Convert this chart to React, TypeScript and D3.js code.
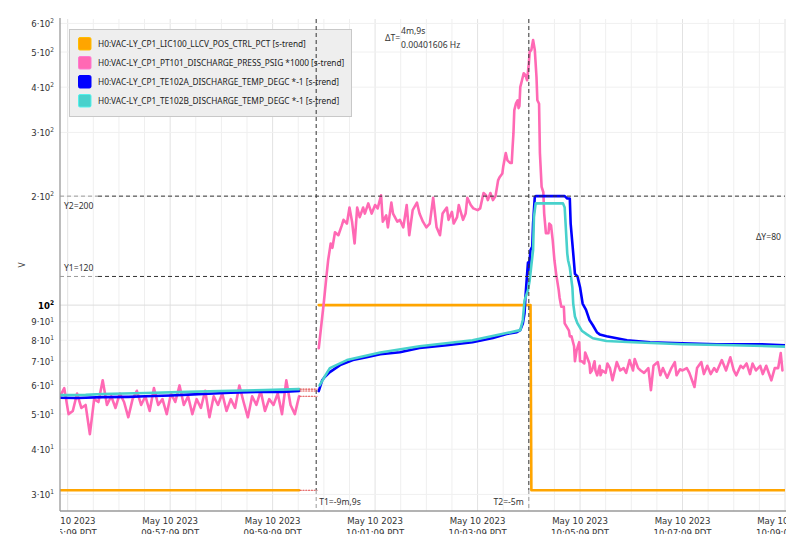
import React from 'react';
import * as d3 from 'd3';

// ---- time axis: seconds since May 10 2023 09:55:00 PDT ----
const xDomain = [0, 849];
const yDomain = [27, 617];

const xTickTimes = [9, 129, 249, 369, 489, 609, 729, 849];
const xTickDates = ['May 10 2023', 'May 10 2023', 'May 10 2023', 'May 10 2023', 'May 10 2023', 'May 10 2023', 'May 10 2023', 'May 10 2023'];
const xTickClocks = ['09:55:09 PDT', '09:57:09 PDT', '09:59:09 PDT', '10:01:09 PDT', '10:03:09 PDT', '10:05:09 PDT', '10:07:09 PDT', '10:09:09 PDT'];
const xMinorStep = 30;

const yTicks = [30, 40, 50, 60, 70, 80, 90, 100, 200, 300, 400, 500, 600];
const yTickMantissa = ['3·', '4·', '5·', '6·', '7·', '8·', '9·', '', '2·', '3·', '4·', '5·', '6·'];
const yTickExp = ['1', '1', '1', '1', '1', '1', '1', '2', '2', '2', '2', '2', '2'];

const seriesNames = [
  'H0:VAC-LY_CP1_LIC100_LLCV_POS_CTRL_PCT [s-trend]',
  'H0:VAC-LY_CP1_PT101_DISCHARGE_PRESS_PSIG *1000 [s-trend]',
  'H0:VAC-LY_CP1_TE102A_DISCHARGE_TEMP_DEGC *-1 [s-trend]',
  'H0:VAC-LY_CP1_TE102B_DISCHARGE_TEMP_DEGC *-1 [s-trend]',
];
const seriesColors = ['#FFA500', '#FF69B4', '#0000FF', '#48D1CC'];

// gap in data between these times
const gapStart = 280;
const gapEnd = 301;

const orangePre: [number, number][] = [[0, 30.8], [280, 30.8]];
const orangePost: [number, number][] = [[303, 100], [551, 100], [552, 30.8], [849, 30.8]];

const pinkPreStep = 5;
const pinkPreValues = [56, 59, 50, 51, 57, 52, 53, 44, 55, 54, 62, 53, 56, 52, 57, 54, 49, 55, 58, 53, 56, 51, 59, 53, 55, 50, 57, 54, 60, 53, 56, 50, 55, 52, 58, 49, 56, 53, 57, 51, 55, 52, 60, 54, 49, 56, 53, 58, 51, 55, 53, 57, 50, 62, 53, 50, 56];

const pinkPost: [number, number][] = [
  [303, 76], [306, 88], [309, 102], [312, 120], [314, 133], [317, 148], [319, 144], [322, 159], [326, 156], [330, 166],
  [332, 172], [336, 168], [339, 186], [342, 170], [345, 148], [348, 186], [351, 175], [355, 186], [357, 179], [361, 191],
  [365, 179], [369, 189], [372, 185], [376, 201], [378, 170], [382, 177], [384, 164], [388, 192], [390, 179], [395, 170],
  [398, 172], [402, 164], [406, 189], [409, 156], [413, 183], [418, 192], [421, 179], [425, 170], [429, 164], [433, 168],
  [437, 198], [441, 164], [445, 156], [448, 179], [453, 186], [455, 172], [459, 181], [461, 168], [465, 175], [467, 189],
  [472, 172], [475, 179], [477, 198], [481, 189], [484, 185], [489, 183], [492, 185], [496, 204], [499, 201], [501, 195],
  [504, 204], [507, 195], [510, 200], [513, 221], [515, 226], [518, 231], [519, 241], [522, 263], [524, 251], [527, 247],
  [529, 247], [530, 273], [531, 298], [532, 345], [534, 361], [536, 368], [537, 350], [538, 355], [539, 400], [541, 418],
  [543, 437], [545, 432], [547, 418], [549, 464], [550, 500], [552, 507], [554, 540], [556, 507], [558, 426], [559, 368],
  [561, 360], [562, 263], [564, 212], [566, 205], [567, 179], [569, 158], [572, 158], [573, 168], [575, 166], [577, 151],
  [579, 133], [581, 122], [584, 110], [585, 105], [587, 99], [590, 99], [591, 89], [596, 85], [597, 82], [599, 82],
  [602, 77], [603, 70], [605, 75], [608, 79], [609, 70], [611, 70], [614, 69], [615, 74], [617, 72], [620, 69],
  [621, 65], [623, 66], [626, 70], [627, 66], [629, 64], [632, 68], [633, 64], [635, 66], [639, 65], [641, 69],
  [644, 67], [647, 62], [652, 69.6], [656, 66], [660, 67], [663, 65], [667, 70.5], [671, 66], [673, 71], [677, 67],
  [680, 66], [684, 65], [689, 67], [692, 58.2], [695, 68], [700, 69.6], [703, 64], [706, 67], [711, 63], [716, 67],
  [720, 69.6], [722, 64], [726, 66.5], [729, 66], [734, 67], [737, 65], [743, 59.4], [746, 67], [751, 69.6], [754, 64.5],
  [758, 68], [762, 64.5], [766, 67], [769, 65.5], [775, 70.5], [780, 66], [785, 71.8], [789, 66], [792, 64], [797, 68],
  [800, 67], [804, 69], [808, 64.5], [811, 69], [815, 66], [820, 68], [823, 64.5], [827, 68], [833, 62], [837, 67],
  [841, 67], [844, 73.7], [846, 66],
];

const bluePre: [number, number][] = [
  [0, 55.5], [20, 55.4], [50, 55.7], [80, 55.8], [100, 56], [130, 56.3], [150, 56.6], [180, 57], [200, 57.3], [240, 57.7], [260, 57.6], [280, 57.9],
];
const bluePost: [number, number][] = [
  [303, 57.9], [307, 62], [310, 63.3], [316, 65.3], [328, 68.3], [343, 70.5], [359, 71.8], [375, 73.2], [398, 74.1], [421, 76.1],
  [453, 77.5], [483, 79], [507, 81.1], [523, 83.2], [535, 84.2], [539, 85.3], [542, 89], [544, 95], [545, 105], [547, 122],
  [548, 131], [549, 125], [551, 142], [553, 145], [554, 168], [556, 199], [557, 200], [591, 200], [594, 197], [597, 197],
  [598, 168], [601, 139], [603, 122], [606, 120], [609, 112], [612, 101], [616, 97], [620, 91], [624, 88], [629, 84],
  [632, 83], [640, 82], [664, 80], [691, 79], [729, 78.5], [769, 78], [820, 78], [849, 77.5],
];

const cyanPre: [number, number][] = [
  [0, 56.4], [30, 56.5], [50, 56.8], [100, 57.2], [150, 57.6], [200, 58], [240, 58.3], [280, 58.6],
];
const cyanPost: [number, number][] = [
  [304, 60], [310, 63.5], [316, 67], [336, 70.5], [375, 74], [421, 77], [483, 80], [523, 83.7], [539, 85.3], [542, 91],
  [544, 103], [548, 110], [550, 117], [554, 142], [555, 175], [557, 191], [589, 191], [591, 186], [594, 139], [595, 133],
  [597, 127], [600, 112], [601, 101], [603, 93], [606, 89], [611, 85], [617, 83], [624, 81], [640, 79.6], [671, 79],
  [729, 78], [788, 77.5], [849, 76.8],
];

const cursorT1 = 300;
const cursorT2 = 549;
const cursorY1 = 120;
const cursorY2 = 200;

const W = 804;
const H = 551;
const M = { left: 60, right: 785, top: 19, bottom: 511 };

export default function App() {
  const x = d3.scaleLinear().domain(xDomain).range([M.left, M.right]);
  const y = d3.scaleLog().domain(yDomain).range([M.bottom, M.top]);
  const line = d3.line<[number, number]>().x(d => x(d[0])).y(d => y(d[1]));

  const pinkPre: [number, number][] = pinkPreValues.map((v, i) => [i * pinkPreStep, v]);

  const series: { pre: [number, number][]; post: [number, number][]; color: string }[] = [
    { pre: orangePre, post: orangePost, color: seriesColors[0] },
    { pre: pinkPre, post: pinkPost, color: seriesColors[1] },
    { pre: bluePre, post: bluePost, color: seriesColors[2] },
    { pre: cyanPre, post: cyanPost, color: seriesColors[3] },
  ];

  const minor = d3.range(xTickTimes[0], xDomain[1] + 1, xMinorStep);
  const tickFont = "'DejaVu Sans Condensed', 'Liberation Sans Narrow', 'Open Sans', sans-serif";
  const textFont = "'Noto Sans', 'Open Sans', sans-serif";

  return (
    <svg width={W} height={H} style={{ position: 'absolute', left: 0, top: 0, background: '#fff' }}>
      <defs>
        <clipPath id="plot">
          <rect x={M.left} y={M.top} width={M.right - M.left} height={M.bottom - M.top} />
        </clipPath>
        <clipPath id="xlab">
          <rect x={M.left} y={M.bottom} width={M.right - M.left + 1} height={23} />
        </clipPath>
      </defs>
      <rect width={W} height={H} fill="#fff" />

      {/* grid */}
      <g>
        {minor.map(t => (
          <line key={'vm' + t} x1={x(t)} x2={x(t)} y1={M.top} y2={M.bottom}
            stroke={xTickTimes.includes(t) ? '#e2e2e2' : '#efefef'} strokeWidth={1} />
        ))}
        {yTicks.map(v => (
          <line key={'hg' + v} x1={M.left} x2={M.right} y1={y(v)} y2={y(v)}
            stroke={v === 100 ? '#dddddd' : '#f0f0f0'} strokeWidth={1} />
        ))}
      </g>

      {/* series */}
      <g clipPath="url(#plot)" fill="none" strokeLinejoin="round" strokeLinecap="round">
        {series.map((s, i) => (
          <g key={'s' + i}>
            <path d={line(s.pre) || ''} stroke={s.color} strokeWidth={2.6} />
            <path d={line(s.post) || ''} stroke={s.color} strokeWidth={2.6} />
          </g>
        ))}
        {series.map((s, i) => {
          const last = s.pre[s.pre.length - 1];
          return (
            <line key={'gap' + i} x1={x(last[0]) + 1} x2={x(gapEnd)} y1={y(last[1])} y2={y(last[1])}
              stroke="#e04848" strokeWidth={1.1} strokeDasharray="1.2,1.6" />
          );
        })}
      </g>

      {/* axes */}
      <line x1={M.left} x2={M.left} y1={M.top - 1} y2={M.bottom} stroke="#9a9a9a" strokeWidth={1.3} />
      <line x1={M.left} x2={M.right + 1} y1={M.bottom} y2={M.bottom} stroke="#9a9a9a" strokeWidth={1.3} />

      {/* y tick labels */}
      <g fontFamily={tickFont} fontSize={9.5} fill="#333" textAnchor="end">
        {yTicks.map((v, i) => (
          <text key={'yl' + i} x={54} y={y(v) + 3.5} fill={v === 100 ? '#000' : '#333'} fontWeight={v === 100 ? 'bold' : 'normal'}>
            {yTickMantissa[i]}10<tspan fontSize={6.5} dy={-3.5}>{yTickExp[i]}</tspan>
          </text>
        ))}
      </g>
      <text transform={`translate(25,${(M.top + M.bottom) / 2}) rotate(-90)`} fontFamily={textFont} fontSize={8.5} fill="#333" textAnchor="middle">V</text>

      {/* x tick labels */}
      <g clipPath="url(#xlab)" fontFamily={tickFont} fontSize={9.5} fill="#333" textAnchor="middle">
        {xTickTimes.map((t, i) => (
          <g key={'xl' + i}>
            <text x={x(t)} y={524}>{xTickDates[i]}</text>
            <text x={x(t)} y={535.5}>{xTickClocks[i]}</text>
          </g>
        ))}
      </g>

      {/* legend */}
      <g>
        <rect x={69.5} y={29.5} width={282} height={87} fill="#eeeeee" stroke="#c8c8c8" strokeWidth={1} />
        {seriesNames.map((n, i) => (
          <g key={'lg' + i}>
            <rect x={78.5} y={37.5 + i * 19} width={12.5} height={12.5} rx={1.5} fill={seriesColors[i]}
              stroke={d3.color(seriesColors[i])?.brighter(0.4).toString()} strokeWidth={1} />
            <text x={98} y={47.3 + i * 19} fontFamily={textFont} fontSize={8.3} fill="#222">{n}</text>
          </g>
        ))}
      </g>

      {/* cursors */}
      <g fill="none" strokeDasharray="4,3">
        <line x1={M.left} x2={98} y1={y(cursorY2)} y2={y(cursorY2)} stroke="#9a9a9a" strokeWidth={1} />
        <line x1={98} x2={M.right} y1={y(cursorY2)} y2={y(cursorY2)} stroke="#333" strokeWidth={1} />
        <line x1={M.left} x2={98} y1={y(cursorY1)} y2={y(cursorY1)} stroke="#9a9a9a" strokeWidth={1} />
        <line x1={98} x2={M.right} y1={y(cursorY1)} y2={y(cursorY1)} stroke="#333" strokeWidth={1} />
        <line x1={x(cursorT1)} x2={x(cursorT1)} y1={M.top} y2={490} stroke="#333" strokeWidth={1} />
        <line x1={x(cursorT1)} x2={x(cursorT1)} y1={490} y2={M.bottom} stroke="#9a9a9a" strokeWidth={1} />
        <line x1={x(cursorT2)} x2={x(cursorT2)} y1={M.top} y2={490} stroke="#333" strokeWidth={1} />
        <line x1={x(cursorT2)} x2={x(cursorT2)} y1={490} y2={M.bottom} stroke="#9a9a9a" strokeWidth={1} />
      </g>

      {/* cursor labels */}
      <g fontFamily={textFont} fontSize={8.6} fill="#333">
        <text x={64} y={y(cursorY2) + 13}>Y2={cursorY2}</text>
        <text x={64} y={y(cursorY1) - 5}>Y1={cursorY1}</text>
        <text x={x(cursorT1) + 3} y={505}>T1=-9m,9s</text>
        <text x={x(cursorT2) - 5} y={505} textAnchor="end">T2=-5m</text>
        <text x={385} y={41}>ΔT=</text>
        <text x={401} y={34}>4m,9s</text>
        <text x={401} y={47.5}>0.00401606 Hz</text>
        <text x={781} y={240} textAnchor="end">ΔY={cursorY2 - cursorY1}</text>
      </g>
    </svg>
  );
}
